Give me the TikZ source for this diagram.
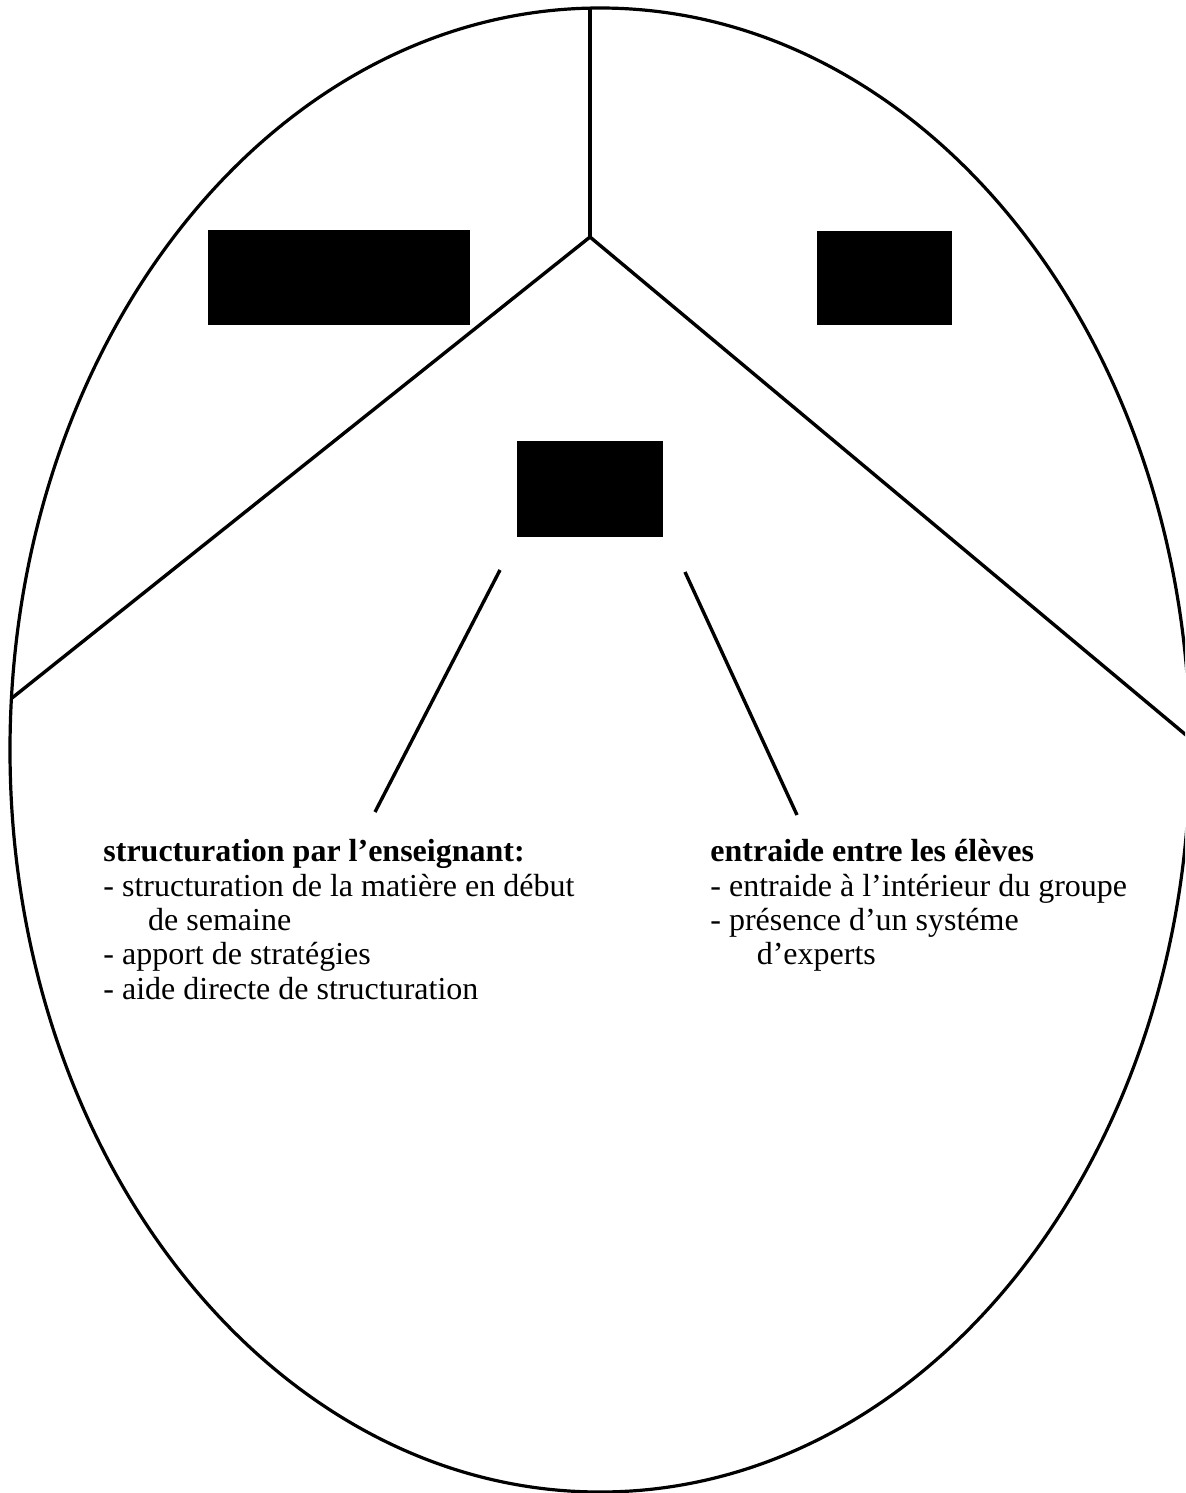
\documentclass[tikz,border=0pt]{standalone}
\usepackage{fontspec}
\setmainfont{Liberation Serif}
\tikzset{
  outline/.style={line width=1.6pt, black},
  spoke/.style={line width=1.7pt, black},
  block/.style={anchor=north west, inner sep=0pt, align=left, font=\fontsize{16}{17.2}\selectfont}
}
\begin{document}
\begin{tikzpicture}[x=0.5pt,y=-0.5pt]
\useasboundingbox (0,0) rectangle (1185,1493);
\clip (0,0) rectangle (1185,1493);
\fill[white] (0,0) rectangle (1185,1493);
\draw[outline] (600,750) ellipse [x radius=295pt, y radius=371pt];
\coordinate (top) at (590,8);
\coordinate (hub) at (590,237);
\coordinate (leftend) at (12,698);
\coordinate (rightend) at (1192,740);
\draw[spoke] (top) -- (hub);
\draw[spoke] (leftend) -- (hub) -- (rightend);
\fill[black] (208,230) rectangle (470,325);
\fill[black] (817,231) rectangle (952,325);
\fill[black] (517,441) rectangle (663,537);
\coordinate (la) at (500,570);
\coordinate (lb) at (375,812);
\coordinate (ra) at (685,572);
\coordinate (rb) at (797,815);
\draw[spoke] (la) -- (lb);
\draw[spoke] (ra) -- (rb);
\node[block] (txtL) at (103,839) {\textbf{structuration par l’enseignant:}\\
- structuration de la matière en début\\
\hspace*{1.4em}de semaine\\
- apport de stratégies\\
- aide directe de structuration};
\node[block] (txtR) at (710,839) {\textbf{entraide entre les élèves}\\
- entraide à l’intérieur du groupe\\
- présence d’un systéme\\
\hspace*{1.45em}d’experts};
\end{tikzpicture}
\end{document}
